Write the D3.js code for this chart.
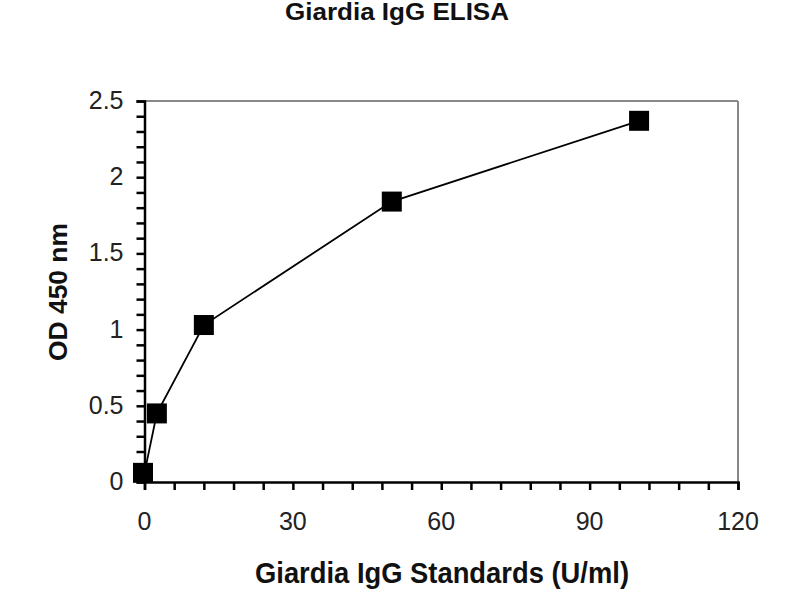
<!DOCTYPE html>
<html><head><meta charset="utf-8">
<script src="https://cdn.jsdelivr.net/npm/d3@7"></script>
<style>body{margin:0;background:#fff}svg{display:block}</style>
</head><body>
<svg id="c" width="800" height="600"></svg>
<script>
const concentrations = [0, 2.5, 12, 50, 100];
const odValues = [0.06, 0.45, 1.03, 1.84, 2.37];
const xTicks = [0, 30, 60, 90, 120];
const yTicks = [0, 0.5, 1, 1.5, 2, 2.5];
const titleText = "Giardia IgG ELISA";
const xTitle = "Giardia IgG Standards (U/ml)";
const yTitle = "OD 450 nm";

const svg = d3.select("#c");
const L = 144.5, R = 738, T = 101, B = 482;
const x = d3.scaleLinear().domain([0, 120]).range([L, R]);
const y = d3.scaleLinear().domain([0, 2.5]).range([B, T]);
const font = "'Liberation Sans', Arial, sans-serif";

svg.append("text").attr("x", 397).attr("y", 20).attr("text-anchor", "middle")
  .attr("font-family", font).attr("font-weight", "bold").attr("font-size", 23)
  .attr("textLength", 224).attr("lengthAdjust", "spacingAndGlyphs")
  .attr("fill", "#111").text(titleText);

// top & right border
svg.append("line").attr("x1", L).attr("x2", R).attr("y1", T).attr("y2", T).attr("stroke", "#888").attr("stroke-width", 2);
svg.append("line").attr("x1", R).attr("x2", R).attr("y1", T).attr("y2", B).attr("stroke", "#888").attr("stroke-width", 2);

// x axis
const xMinor = d3.range(0, 121, 6);
const gx = svg.append("g").attr("transform", `translate(0,${B})`);
gx.call(d3.axisBottom(x).tickValues(xMinor).tickSize(8).tickFormat(""))
  .call(g => g.select(".domain").attr("stroke", "#000").attr("stroke-width", 2.5))
  .call(g => g.selectAll(".tick line").attr("stroke", "#000").attr("stroke-width", 2.5));
gx.selectAll(".tlab").data(xTicks).join("text").attr("class", "tlab")
  .attr("x", d => x(d)).attr("y", 48).attr("text-anchor", "middle")
  .attr("font-family", font).attr("font-size", 25).attr("fill", "#222").text(d => d);

// y axis
const yMinor = d3.range(0, 26).map(i => i / 10);
const gy = svg.append("g").attr("transform", `translate(${L},0)`);
gy.call(d3.axisLeft(y).tickValues(yMinor).tickSize(8).tickFormat(""))
  .call(g => g.select(".domain").attr("stroke", "#000").attr("stroke-width", 2.5))
  .call(g => g.selectAll(".tick line").attr("stroke", "#000").attr("stroke-width", 2.5));
gy.selectAll(".tlab").data(yTicks).join("text").attr("class", "tlab")
  .attr("x", -21).attr("y", d => y(d) + 8).attr("text-anchor", "end")
  .attr("font-family", font).attr("font-size", 25).attr("fill", "#222").text(d => d);

// axis titles
svg.append("text").attr("x", 442).attr("y", 583).attr("text-anchor", "middle")
  .attr("font-family", font).attr("font-weight", "bold").attr("font-size", 30)
  .attr("textLength", 374).attr("lengthAdjust", "spacingAndGlyphs")
  .attr("fill", "#111").text(xTitle);
svg.append("text").attr("transform", "translate(67,292) rotate(-90)").attr("text-anchor", "middle")
  .attr("font-family", font).attr("font-weight", "bold").attr("font-size", 25)
  .attr("textLength", 138).attr("lengthAdjust", "spacingAndGlyphs")
  .attr("fill", "#111").text(yTitle);

// line + markers
const data = concentrations.map((c, i) => ({x: c, y: odValues[i]}));
svg.append("path").datum(data)
  .attr("d", d3.line().x(d => x(d.x)).y(d => y(d.y)))
  .attr("fill", "none").attr("stroke", "#000").attr("stroke-width", 1.8);
const s = 20;
svg.selectAll(".pt").data(data).join("rect").attr("class", "pt")
  .attr("x", d => x(d.x) - s / 2 - (d.x === 0 ? 1.5 : 0)).attr("y", d => y(d.y) - s / 2)
  .attr("width", s).attr("height", s).attr("fill", "#000");
</script>
</body></html>
